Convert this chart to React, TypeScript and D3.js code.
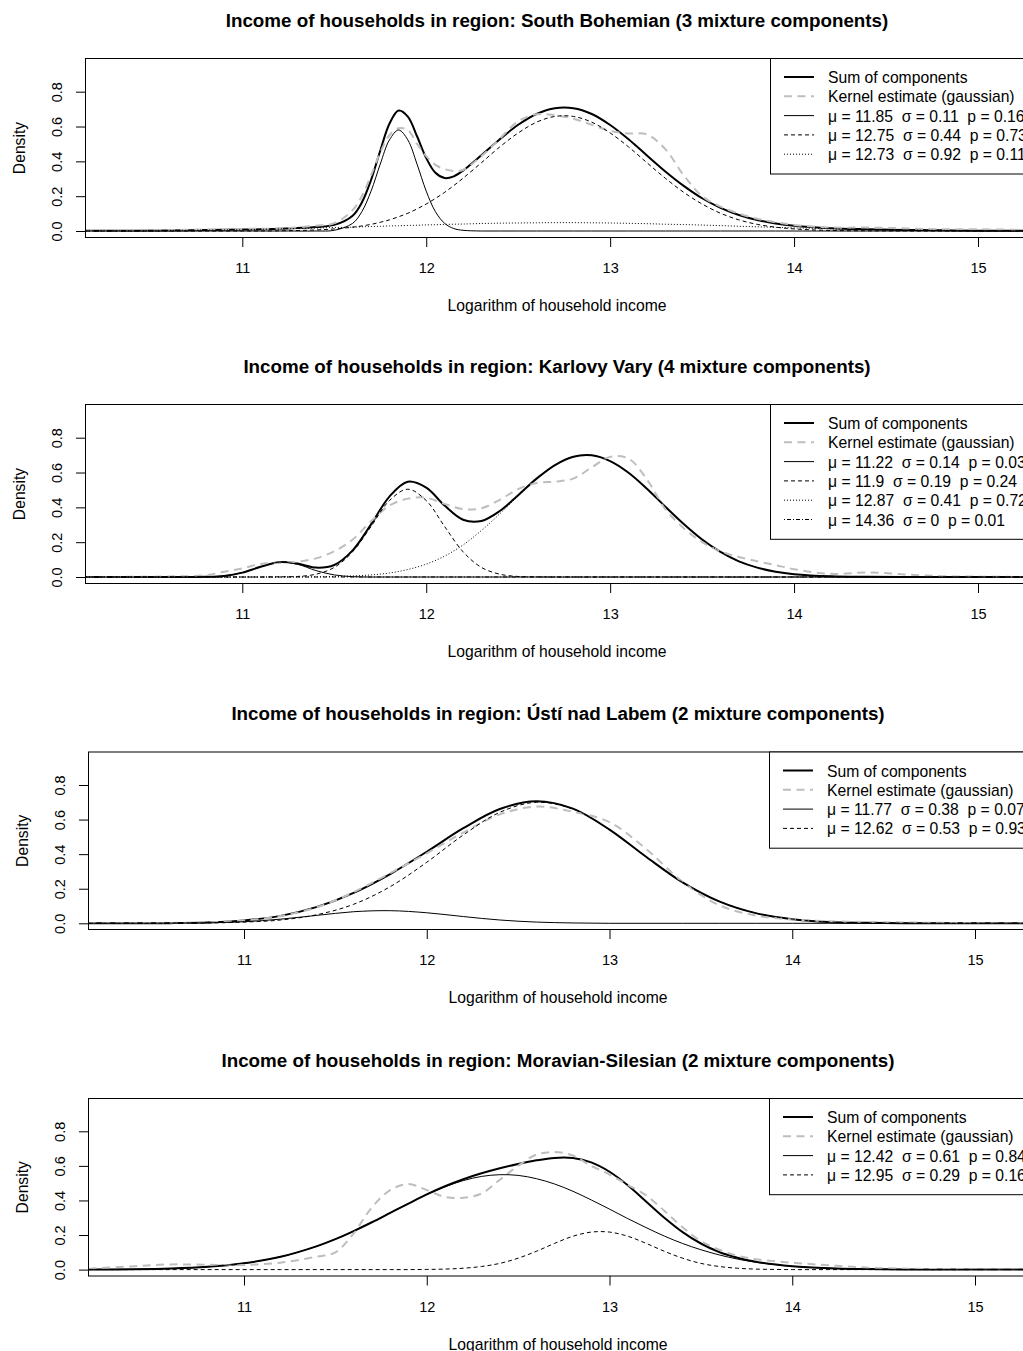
import { useEffect, useRef } from 'react';
import * as d3 from 'd3';

// ---------- data ----------

const titleSouth = 'Income of households in region: South Bohemian (3 mixture components)';
const titleKarlovy = 'Income of households in region: Karlovy Vary (4 mixture components)';
const titleUsti = 'Income of households in region: Ústí nad Labem (2 mixture components)';
const titleMoravian = 'Income of households in region: Moravian-Silesian (2 mixture components)';

const xTicks = [11, 12, 13, 14, 15];
const yTicks = [0, 0.2, 0.4, 0.6, 0.8];
const xLabel = 'Logarithm of household income';
const yLabel = 'Density';
const sumLabel = 'Sum of components';
const kdeLabel = 'Kernel estimate (gaussian)';

// South Bohemian
const xsSouth = [10.15, 10.6, 11.0, 11.2, 11.4, 11.5, 11.6, 11.65, 11.7, 11.75, 11.8, 11.85, 11.9, 11.95, 12.0, 12.05, 12.1, 12.15, 12.2, 12.3, 12.4, 12.5, 12.6, 12.7, 12.8, 12.9, 13.0, 13.1, 13.2, 13.3, 13.4, 13.5, 13.6, 13.7, 13.8, 13.9, 14.0, 14.2, 14.4, 14.6, 14.8, 15.0, 15.3];
const sumSouth = [0.001, 0.003, 0.008, 0.013, 0.023, 0.035, 0.088, 0.164, 0.293, 0.461, 0.616, 0.692, 0.657, 0.544, 0.419, 0.334, 0.304, 0.314, 0.347, 0.435, 0.527, 0.61, 0.672, 0.705, 0.705, 0.672, 0.609, 0.527, 0.434, 0.342, 0.259, 0.188, 0.133, 0.092, 0.063, 0.043, 0.03, 0.016, 0.01, 0.006, 0.004, 0.002, 0.001];
const kdeSouth = [0, 0.005, 0.012, 0.015, 0.03, 0.045, 0.12, 0.2, 0.32, 0.45, 0.55, 0.59, 0.58, 0.5, 0.43, 0.38, 0.355, 0.345, 0.35, 0.43, 0.53, 0.63, 0.67, 0.665, 0.645, 0.61, 0.575, 0.56, 0.555, 0.47, 0.32, 0.2, 0.14, 0.1, 0.07, 0.05, 0.035, 0.02, 0.02, 0.015, 0.01, 0.01, 0.005];
const compSouth1 = [0, 0, 0, 0, 0, 0.004, 0.044, 0.111, 0.229, 0.384, 0.523, 0.58, 0.523, 0.384, 0.229, 0.111, 0.044, 0.014, 0.004, 0, 0, 0, 0, 0, 0, 0, 0, 0, 0, 0, 0, 0, 0, 0, 0, 0, 0, 0, 0, 0, 0, 0, 0];
const compSouth2 = [0, 0, 0, 0.001, 0.006, 0.012, 0.022, 0.029, 0.038, 0.05, 0.064, 0.082, 0.102, 0.127, 0.155, 0.187, 0.222, 0.261, 0.303, 0.392, 0.483, 0.563, 0.625, 0.658, 0.658, 0.625, 0.563, 0.483, 0.392, 0.303, 0.222, 0.155, 0.102, 0.064, 0.038, 0.022, 0.012, 0.003, 0.001, 0, 0, 0, 0];
const compSouth3 = [0.001, 0.003, 0.008, 0.012, 0.017, 0.02, 0.022, 0.024, 0.026, 0.027, 0.029, 0.03, 0.032, 0.033, 0.035, 0.036, 0.038, 0.039, 0.04, 0.043, 0.045, 0.046, 0.047, 0.048, 0.048, 0.047, 0.046, 0.044, 0.042, 0.039, 0.037, 0.034, 0.031, 0.027, 0.024, 0.021, 0.018, 0.013, 0.009, 0.006, 0.004, 0.002, 0.001];
const labelsSouth = ['μ = 11.85  σ = 0.11  p = 0.16', 'μ = 12.75  σ = 0.44  p = 0.73', 'μ = 12.73  σ = 0.92  p = 0.11'];

// Karlovy Vary
const xsKarlovy = [10.15, 10.6, 10.8, 10.9, 11.0, 11.1, 11.2, 11.3, 11.4, 11.5, 11.6, 11.7, 11.8, 11.9, 12.0, 12.1, 12.2, 12.3, 12.4, 12.5, 12.6, 12.7, 12.8, 12.9, 13.0, 13.1, 13.2, 13.3, 13.4, 13.5, 13.6, 13.7, 13.8, 13.9, 14.0, 14.2, 14.4, 14.6, 14.8, 15.0, 15.3];
const sumKarlovy = [0, 0, 0.001, 0.006, 0.025, 0.059, 0.085, 0.077, 0.054, 0.069, 0.153, 0.302, 0.462, 0.547, 0.513, 0.41, 0.329, 0.322, 0.379, 0.47, 0.565, 0.643, 0.691, 0.699, 0.666, 0.599, 0.507, 0.404, 0.304, 0.215, 0.144, 0.09, 0.054, 0.03, 0.016, 0.004, 0.001, 0, 0, 0, 0];
const kdeKarlovy = [0, 0.003, 0.01, 0.03, 0.05, 0.075, 0.082, 0.088, 0.107, 0.148, 0.215, 0.32, 0.41, 0.45, 0.455, 0.42, 0.39, 0.395, 0.443, 0.505, 0.54, 0.548, 0.565, 0.63, 0.69, 0.68, 0.56, 0.39, 0.28, 0.2, 0.148, 0.115, 0.09, 0.068, 0.045, 0.018, 0.026, 0.015, 0.005, 0.002, 0];
const compKarlovy1 = [0, 0, 0.001, 0.006, 0.025, 0.059, 0.085, 0.073, 0.037, 0.012, 0.002, 0, 0, 0, 0, 0, 0, 0, 0, 0, 0, 0, 0, 0, 0, 0, 0, 0, 0, 0, 0, 0, 0, 0, 0, 0, 0, 0, 0, 0, 0];
const compKarlovy2 = [0, 0, 0, 0, 0, 0, 0.001, 0.003, 0.016, 0.055, 0.145, 0.29, 0.439, 0.504, 0.439, 0.29, 0.145, 0.055, 0.016, 0.003, 0.001, 0, 0, 0, 0, 0, 0, 0, 0, 0, 0, 0, 0, 0, 0, 0, 0, 0, 0, 0, 0];
const compKarlovy3 = [0, 0, 0, 0, 0, 0, 0, 0.001, 0.001, 0.003, 0.006, 0.012, 0.023, 0.043, 0.074, 0.12, 0.184, 0.267, 0.363, 0.466, 0.564, 0.643, 0.691, 0.699, 0.666, 0.599, 0.507, 0.404, 0.304, 0.215, 0.144, 0.09, 0.054, 0.03, 0.016, 0.004, 0.001, 0, 0, 0, 0];
const compKarlovy4 = [0, 0, 0, 0, 0, 0, 0, 0, 0, 0, 0, 0, 0, 0, 0, 0, 0, 0, 0, 0, 0, 0, 0, 0, 0, 0, 0, 0, 0, 0, 0, 0, 0, 0, 0, 0, 0, 0, 0, 0, 0];
const labelsKarlovy = ['μ = 11.22  σ = 0.14  p = 0.03', 'μ = 11.9  σ = 0.19  p = 0.24', 'μ = 12.87  σ = 0.41  p = 0.72', 'μ = 14.36  σ = 0  p = 0.01'];

// Usti nad Labem
const xsUsti = [10.15, 10.4, 10.6, 10.8, 11.0, 11.2, 11.4, 11.6, 11.8, 12.0, 12.2, 12.4, 12.6, 12.8, 13.0, 13.2, 13.4, 13.6, 13.8, 14.0, 14.2, 14.4, 14.6, 14.8, 15.0, 15.3];
const sumUsti = [0, 0, 0.001, 0.005, 0.016, 0.043, 0.095, 0.176, 0.285, 0.414, 0.55, 0.661, 0.706, 0.663, 0.542, 0.385, 0.237, 0.127, 0.059, 0.024, 0.008, 0.003, 0.001, 0, 0, 0];
const kdeUsti = [0, 0.001, 0.002, 0.006, 0.016, 0.042, 0.093, 0.18, 0.29, 0.405, 0.525, 0.63, 0.675, 0.645, 0.585, 0.43, 0.24, 0.105, 0.045, 0.022, 0.012, 0.008, 0.005, 0.003, 0.001, 0];
const compUsti1 = [0, 0, 0.001, 0.003, 0.009, 0.024, 0.046, 0.067, 0.073, 0.061, 0.039, 0.019, 0.007, 0.002, 0, 0, 0, 0, 0, 0, 0, 0, 0, 0, 0, 0];
const compUsti2 = [0, 0, 0.001, 0.002, 0.007, 0.019, 0.05, 0.11, 0.212, 0.353, 0.511, 0.642, 0.7, 0.661, 0.541, 0.385, 0.237, 0.127, 0.059, 0.024, 0.008, 0.003, 0.001, 0, 0, 0];
const labelsUsti = ['μ = 11.77  σ = 0.38  p = 0.07', 'μ = 12.62  σ = 0.53  p = 0.93'];

// Moravian-Silesian
const xsMoravian = [10.15, 10.4, 10.6, 10.8, 11.0, 11.2, 11.4, 11.5, 11.6, 11.7, 11.8, 11.9, 12.0, 12.1, 12.2, 12.3, 12.4, 12.5, 12.6, 12.7, 12.8, 12.9, 13.0, 13.1, 13.2, 13.3, 13.4, 13.5, 13.6, 13.7, 13.8, 14.0, 14.2, 14.4, 14.6, 14.8, 15.0, 15.3];
const sumMoravian = [0.001, 0.002, 0.006, 0.016, 0.037, 0.074, 0.136, 0.176, 0.223, 0.274, 0.328, 0.382, 0.435, 0.482, 0.523, 0.557, 0.586, 0.611, 0.632, 0.646, 0.645, 0.62, 0.566, 0.488, 0.394, 0.3, 0.217, 0.151, 0.102, 0.069, 0.046, 0.02, 0.008, 0.003, 0.001, 0, 0, 0];
const kdeMoravian = [0.005, 0.02, 0.03, 0.028, 0.027, 0.04, 0.075, 0.1, 0.21, 0.36, 0.46, 0.495, 0.46, 0.42, 0.415, 0.44, 0.52, 0.6, 0.665, 0.68, 0.66, 0.6, 0.55, 0.49, 0.43, 0.34, 0.245, 0.165, 0.115, 0.08, 0.06, 0.04, 0.025, 0.012, 0.006, 0.003, 0.001, 0];
const compMoravian1 = [0.001, 0.002, 0.006, 0.016, 0.037, 0.074, 0.136, 0.176, 0.223, 0.274, 0.328, 0.382, 0.434, 0.479, 0.515, 0.539, 0.549, 0.545, 0.526, 0.495, 0.453, 0.403, 0.35, 0.295, 0.243, 0.194, 0.151, 0.115, 0.085, 0.061, 0.043, 0.019, 0.008, 0.003, 0.001, 0, 0, 0];
const compMoravian2 = [0, 0, 0, 0, 0, 0, 0, 0, 0, 0, 0, 0, 0.001, 0.003, 0.008, 0.018, 0.036, 0.066, 0.106, 0.152, 0.193, 0.217, 0.217, 0.193, 0.152, 0.106, 0.066, 0.036, 0.018, 0.008, 0.003, 0, 0, 0, 0, 0, 0, 0];
const labelsMoravian = ['μ = 12.42  σ = 0.61  p = 0.84', 'μ = 12.95  σ = 0.29  p = 0.16'];

// ---------- layout ----------

const FONT = '"Liberation Sans", Arial, Helvetica, sans-serif';
const COMP_DASH = [null, '4,3', '1,2', '1,2,4,2'];
const KDE_COLOR = '#bebebe';
const KDE_DASH = '8,5.5';

type Layout = {
  left: number; right: number; top: number; bottom: number;
  x11: number; x15: number; y0: number; y08: number;
};

const layoutA = { left: 85.5, right: 1028.5, x11: 242.3, x15: 978 };
const layoutB = { left: 88.5, right: 1027.5, x11: 244, x15: 975 };

const panels = [
  { title: titleSouth, xs: xsSouth, sum: sumSouth, kde: kdeSouth, comps: [compSouth1, compSouth2, compSouth3], labels: labelsSouth,
    layout: { ...layoutA, top: 58.5, bottom: 237.5, y0: 231, y08: 91.7 } },
  { title: titleKarlovy, xs: xsKarlovy, sum: sumKarlovy, kde: kdeKarlovy, comps: [compKarlovy1, compKarlovy2, compKarlovy3, compKarlovy4], labels: labelsKarlovy,
    layout: { ...layoutA, top: 404.5, bottom: 583.5, y0: 577, y08: 437.7 } },
  { title: titleUsti, xs: xsUsti, sum: sumUsti, kde: kdeUsti, comps: [compUsti1, compUsti2], labels: labelsUsti,
    layout: { ...layoutB, top: 752, bottom: 929.5, y0: 923.3, y08: 785 } },
  { title: titleMoravian, xs: xsMoravian, sum: sumMoravian, kde: kdeMoravian, comps: [compMoravian1, compMoravian2], labels: labelsMoravian,
    layout: { ...layoutB, top: 1098.5, bottom: 1276, y0: 1269.6, y08: 1131.3 } },
];

function drawPanel(svg: any, p: any, idx: number) {
  const L: Layout = p.layout;
  const x = d3.scaleLinear().domain([11, 15]).range([L.x11, L.x15]);
  const y = d3.scaleLinear().domain([0, 0.8]).range([L.y0, L.y08]);
  const g = svg.append('g').attr('font-family', FONT).attr('fill', '#000');

  const clipId = `plot-clip-${idx}`;
  g.append('clipPath').attr('id', clipId)
    .append('rect')
    .attr('x', L.left).attr('y', L.top)
    .attr('width', L.right - L.left).attr('height', L.bottom - L.top);

  const plot = g.append('g').attr('clip-path', `url(#${clipId})`);
  const line = d3.line<number>()
    .x((_, k) => x(p.xs[k]))
    .y((v) => y(v))
    .curve(d3.curveCatmullRom.alpha(0.5));

  plot.append('path').attr('d', line(p.sum))
    .attr('fill', 'none').attr('stroke', '#000').attr('stroke-width', 2);
  plot.append('path').attr('d', line(p.kde))
    .attr('fill', 'none').attr('stroke', KDE_COLOR).attr('stroke-width', 2)
    .attr('stroke-dasharray', KDE_DASH);
  p.comps.forEach((c: number[], k: number) => {
    plot.append('path').attr('d', line(c))
      .attr('fill', 'none').attr('stroke', '#000').attr('stroke-width', 1)
      .attr('stroke-dasharray', COMP_DASH[k]);
  });

  // frame
  g.append('rect')
    .attr('x', L.left).attr('y', L.top)
    .attr('width', L.right - L.left).attr('height', L.bottom - L.top)
    .attr('fill', 'none').attr('stroke', '#000').attr('stroke-width', 1);

  // x axis
  const ax = g.append('g').attr('transform', `translate(0,${L.bottom})`)
    .call(d3.axisBottom(x).tickValues(xTicks).tickFormat(d3.format('d')).tickSize(9.5));
  ax.attr('font-family', FONT).attr('font-size', 14.5);
  ax.select('.domain').remove();
  ax.selectAll('.tick line').attr('stroke', '#000');
  ax.selectAll('.tick text').attr('y', 35.7).attr('dy', null).attr('fill', '#000');

  // y axis
  const ay = g.append('g').attr('transform', `translate(${L.left},0)`)
    .call(d3.axisLeft(y).tickValues(yTicks).tickFormat(d3.format('.1f')).tickSize(9.5));
  ay.attr('font-family', FONT).attr('font-size', 14.5);
  ay.select('.domain').remove();
  ay.selectAll('.tick line').attr('stroke', '#000');
  ay.selectAll('.tick text')
    .attr('x', null).attr('dy', null)
    .attr('text-anchor', 'middle')
    .attr('transform', 'translate(-23.5,0) rotate(-90)')
    .attr('fill', '#000');

  const cx = (L.left + L.right) / 2;
  const cy = (L.top + L.bottom) / 2;

  // titles and axis labels
  g.append('text').attr('x', cx).attr('y', L.top - 31.8)
    .attr('text-anchor', 'middle').attr('font-weight', 'bold').attr('font-size', 18.8)
    .text(p.title);
  g.append('text').attr('x', cx).attr('y', L.bottom + 73.5)
    .attr('text-anchor', 'middle').attr('font-size', 15.7)
    .text(xLabel);
  g.append('text')
    .attr('transform', `translate(${L.left - 60.5},${cy}) rotate(-90)`)
    .attr('text-anchor', 'middle').attr('font-size', 15.7)
    .text(yLabel);

  // legend
  const entries = [
    { label: sumLabel, stroke: '#000', width: 2, dash: null as string | null },
    { label: kdeLabel, stroke: KDE_COLOR, width: 2, dash: KDE_DASH },
    ...p.labels.map((lab: string, k: number) => ({ label: lab, stroke: '#000', width: 1, dash: COMP_DASH[k] })),
  ];
  const lx = idx < 2 ? 770.5 : 769.5;
  const rowH = 19.3;
  const legH = 18.8 + (entries.length - 1) * rowH + 19.5;
  const leg = g.append('g');
  leg.append('rect')
    .attr('x', lx).attr('y', L.top)
    .attr('width', L.right - lx).attr('height', legH)
    .attr('fill', '#fff').attr('stroke', '#000').attr('stroke-width', 1);
  entries.forEach((e, k) => {
    const base = L.top + 24.5 + k * rowH;
    leg.append('line')
      .attr('x1', lx + 13.5).attr('x2', lx + 43.5)
      .attr('y1', base - 6).attr('y2', base - 6)
      .attr('stroke', e.stroke).attr('stroke-width', e.width)
      .attr('stroke-dasharray', e.dash);
    leg.append('text')
      .attr('x', lx + 57.5).attr('y', base)
      .attr('font-size', 15.7)
      .style('white-space', 'pre')
      .text(e.label);
  });
}

export default function App() {
  const svgRef = useRef<SVGSVGElement>(null);

  useEffect(() => {
    if (!svgRef.current) return;
    const svg = d3.select(svgRef.current);
    svg.selectAll('*').remove();
    panels.forEach((p, i) => drawPanel(svg, p, i));
  }, []);

  return (
    <svg
      ref={svgRef}
      width={1023}
      height={1351}
      style={{ position: 'absolute', left: 0, top: 0, background: '#fff' }}
    />
  );
}
